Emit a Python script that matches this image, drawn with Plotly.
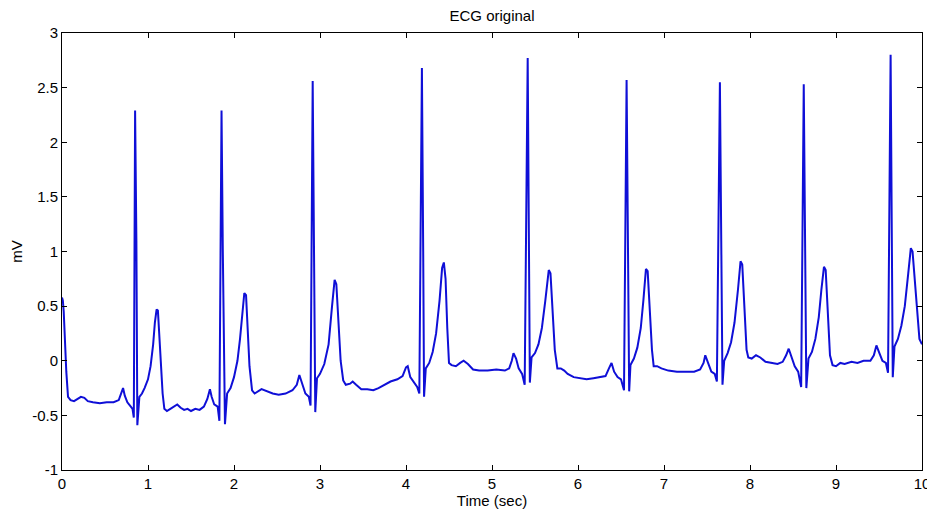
import plotly.graph_objects as go

# Key points (time in s, amplitude in mV)
time_s = [
    0.00, 0.01, 0.02, 0.03, 0.05, 0.07, 0.10, 0.14, 0.18, 0.22, 0.26, 0.30, 0.36, 0.44, 0.52, 0.60, 0.66, 0.69, 0.71, 0.73, 0.76, 0.80, 0.82,
    0.835, 0.85, 0.865, 0.876, 0.90,
    0.93, 0.96, 1.00, 1.03, 1.06, 1.08, 1.10, 1.115, 1.13, 1.15, 1.17, 1.19, 1.22, 1.26, 1.30, 1.34, 1.38, 1.42, 1.46, 1.50, 1.55, 1.60, 1.65, 1.69, 1.72, 1.74, 1.77, 1.81,
    1.83, 1.855, 1.87, 1.895, 1.92,
    1.96, 2.00, 2.04, 2.07, 2.10, 2.12, 2.14, 2.16, 2.18, 2.21, 2.24, 2.32, 2.38, 2.45, 2.52, 2.60, 2.68, 2.73, 2.76, 2.79, 2.83, 2.87,
    2.89, 2.915, 2.93, 2.945, 2.965,
    3.00, 3.05, 3.10, 3.14, 3.17, 3.19, 3.21, 3.24, 3.27, 3.30, 3.35, 3.38, 3.42, 3.48, 3.55, 3.62, 3.68, 3.75, 3.82, 3.90, 3.96, 4.00, 4.02, 4.05, 4.10, 4.13,
    4.155, 4.185, 4.20, 4.21, 4.23,
    4.27, 4.31, 4.35, 4.39, 4.42, 4.44, 4.46, 4.48, 4.50, 4.53, 4.58, 4.63, 4.67, 4.72, 4.78, 4.85, 4.95, 5.05, 5.15, 5.20, 5.23, 5.25, 5.28, 5.31, 5.35,
    5.38, 5.415, 5.43, 5.44, 5.46,
    5.50, 5.54, 5.58, 5.62, 5.66, 5.68, 5.70, 5.73, 5.76, 5.80, 5.84, 5.88, 5.95, 6.02, 6.10, 6.18, 6.25, 6.32, 6.36, 6.39, 6.42, 6.46, 6.50,
    6.535, 6.565, 6.58, 6.595, 6.61,
    6.65, 6.69, 6.73, 6.76, 6.79, 6.81, 6.83, 6.86, 6.88, 6.92, 6.97, 7.05, 7.15, 7.25, 7.35, 7.42, 7.46, 7.48, 7.51, 7.55, 7.59,
    7.615, 7.65, 7.665, 7.68, 7.70,
    7.74, 7.78, 7.82, 7.86, 7.89, 7.91, 7.93, 7.96, 7.98, 8.02, 8.07, 8.12, 8.18, 8.25, 8.32, 8.38, 8.42, 8.45, 8.48, 8.52, 8.56,
    8.595, 8.625, 8.64, 8.655, 8.68,
    8.72, 8.76, 8.80, 8.83, 8.86, 8.88, 8.90, 8.93, 8.96, 9.00, 9.05, 9.10, 9.18, 9.25, 9.32, 9.40, 9.44, 9.47, 9.50, 9.54, 9.58,
    9.605, 9.635, 9.648, 9.66, 9.68,
    9.72, 9.76, 9.80, 9.84, 9.87, 9.89, 9.92, 9.95, 9.97, 10.00,
]
ecg_mv = [
    0.58, 0.55, 0.45, 0.20, -0.10, -0.33, -0.36, -0.37, -0.35, -0.33, -0.34, -0.37, -0.38, -0.39, -0.38, -0.38, -0.36, -0.30, -0.25, -0.32, -0.38, -0.42, -0.44,
    -0.52, 2.29, 1.10, -0.59, -0.33,
    -0.30, -0.25, -0.17, -0.05, 0.15, 0.35, 0.47, 0.46, 0.25, -0.05, -0.30, -0.44, -0.46, -0.44, -0.42, -0.40, -0.43, -0.45, -0.44, -0.46, -0.44, -0.45, -0.42, -0.35, -0.26, -0.33, -0.40, -0.42,
    -0.55, 2.29, 1.00, -0.58, -0.30,
    -0.25, -0.15, 0.00, 0.20, 0.50, 0.62, 0.60, 0.30, -0.05, -0.27, -0.30, -0.26, -0.28, -0.30, -0.31, -0.30, -0.27, -0.22, -0.13, -0.20, -0.30, -0.33,
    -0.41, 2.56, 0.90, -0.47, -0.16,
    -0.12, -0.03, 0.15, 0.50, 0.74, 0.70, 0.40, 0.00, -0.18, -0.22, -0.21, -0.19, -0.22, -0.26, -0.26, -0.27, -0.25, -0.22, -0.19, -0.17, -0.14, -0.06, -0.05, -0.15, -0.20, -0.24,
    -0.30, 2.68, 1.00, -0.33, -0.07,
    -0.02, 0.08, 0.25, 0.55, 0.85, 0.90, 0.75, 0.30, -0.02, -0.04, -0.05, -0.02, 0.00, -0.03, -0.08, -0.09, -0.09, -0.08, -0.09, -0.07, 0.00, 0.07, 0.02, -0.07, -0.12,
    -0.22, 2.77, 1.00, -0.20, 0.03,
    0.07, 0.15, 0.30, 0.55, 0.83, 0.80, 0.50, 0.10, -0.07, -0.07, -0.09, -0.12, -0.15, -0.16, -0.17, -0.16, -0.15, -0.14, -0.07, -0.02, -0.10, -0.15, -0.17,
    -0.27, 2.57, 1.00, -0.28, -0.04,
    0.02, 0.12, 0.30, 0.55, 0.84, 0.82, 0.55, 0.10, -0.05, -0.05, -0.07, -0.09, -0.10, -0.10, -0.10, -0.08, -0.02, 0.05, -0.02, -0.10, -0.12,
    -0.19, 2.55, 1.00, -0.22, 0.00,
    0.07, 0.17, 0.35, 0.65, 0.91, 0.88, 0.55, 0.10, 0.03, 0.02, 0.05, 0.03, -0.01, -0.02, -0.03, -0.01, 0.05, 0.11, 0.04, -0.05, -0.10,
    -0.24, 2.53, 1.00, -0.25, 0.02,
    0.08, 0.20, 0.40, 0.65, 0.86, 0.83, 0.50, 0.05, -0.04, -0.05, -0.02, -0.03, -0.01, -0.02, 0.00, 0.00, 0.05, 0.14, 0.08, 0.00, -0.02,
    -0.11, 2.80, 1.00, -0.15, 0.13,
    0.20, 0.32, 0.50, 0.80, 1.03, 1.00, 0.70, 0.35, 0.20, 0.15,
]

x_ticks = [0, 1, 2, 3, 4, 5, 6, 7, 8, 9, 10]
y_ticks = [-1, -0.5, 0, 0.5, 1, 1.5, 2, 2.5, 3]
y_tick_text = ["-1", "-0.5", "0", "0.5", "1", "1.5", "2", "2.5", "3"]

FONT = "Liberation Sans, Arial, sans-serif"

fig = go.Figure()
fig.add_trace(go.Scatter(
    x=time_s, y=ecg_mv, mode="lines",
    line=dict(color="rgb(15,15,215)", width=2),
    showlegend=False,
))

axis_common = dict(
    showline=True, linecolor="black", linewidth=1, mirror="ticks",
    ticks="inside", ticklen=5, tickcolor="black", showgrid=False, zeroline=False,
    automargin=False,
    tickfont=dict(family=FONT, size=15, color="black"),
)

# The page body adds an 8px margin, so the figure is sized to fit the window.
W, H = 927, 505
fig.update_layout(
    width=W, height=H,
    margin=dict(l=54, r=13, t=25, b=43),
    paper_bgcolor="white", plot_bgcolor="white",
    title=dict(text="ECG original", x=0.5, xref="paper", xanchor="center",
               y=1 - 8 / H, yref="container", yanchor="middle",
               font=dict(family=FONT, size=15, color="black")),
    xaxis=dict(range=[0, 10], tickvals=x_ticks,
               title=dict(text="Time (sec)", standoff=0,
                          font=dict(family=FONT, size=15, color="black")),
               **axis_common),
    yaxis=dict(range=[-1, 3], tickvals=y_ticks, ticktext=y_tick_text,
               title=dict(text="mV", standoff=10,
                          font=dict(family=FONT, size=15, color="black")),
               **axis_common),
)

fig.write_html("out.html")
